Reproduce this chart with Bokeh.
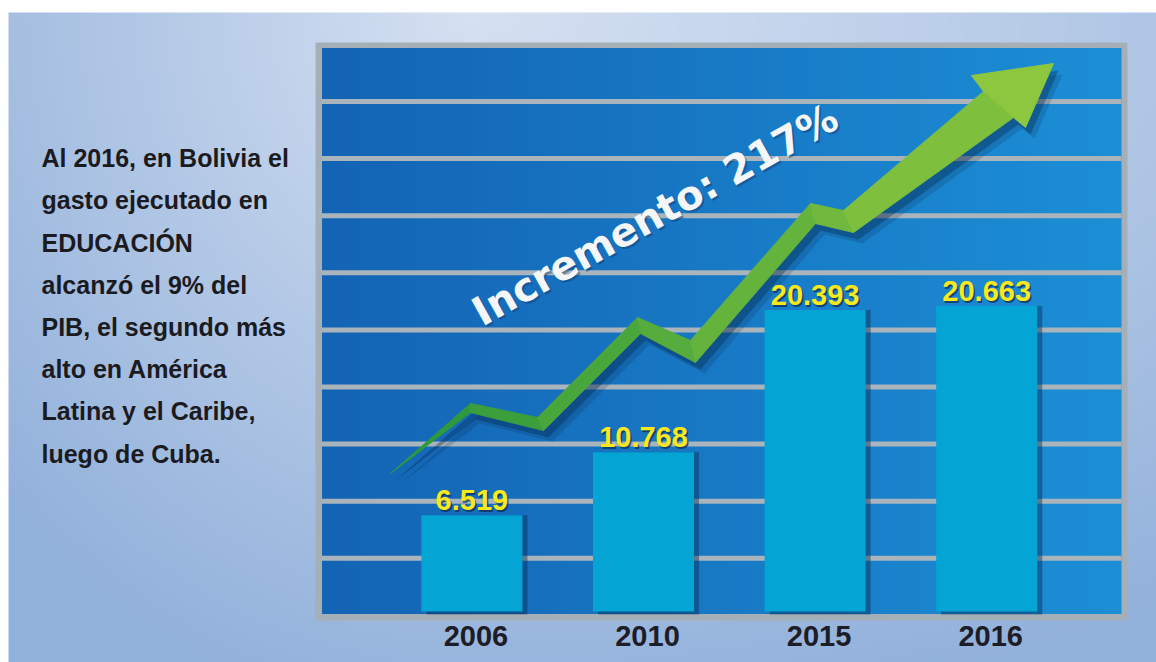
import numpy as np
from bokeh.plotting import figure
from bokeh.models import Range1d, ColumnDataSource
from bokeh.core.properties import value
from bokeh.transform import dodge
from bokeh.embed import file_html
from bokeh.resources import INLINE

# ---------------- data ----------------
years = ["2006", "2010", "2015", "2016"]
gasto = [6.519, 10.768, 20.393, 20.663]
gasto_labels = ["6.519", "10.768", "20.393", "20.663"]
titulo = "Incremento: 217%"
nota = [
    "Al 2016, en Bolivia el",
    "gasto ejecutado en",
    "EDUCACIÓN",
    "alcanzó el 9% del",
    "PIB, el segundo más",
    "alto en América",
    "Latina y el Caribe,",
    "luego de Cuba.",
]

# ---------------- layout ----------------
W, H = 1156, 662
TXT_SHIFT = 10  # baseline correction for rendered text


def PX(x):  # picture x -> figure pixel x
    return x


def PY(y):  # picture y -> figure pixel y (from bottom)
    return H - y


BAR0 = PX(471.4)   # pixel position of first category
STEP = 171.6       # pixels per category
BASE = PY(611)     # pixel position of value 0
PPU = 14.78        # pixels per unit of value
BAR_W = 0.589

p = figure(width=W, height=H, output_backend="svg", toolbar_location=None,
           x_range=Range1d(-BAR0 / STEP, (W - BAR0) / STEP),
           y_range=Range1d(-BASE / PPU, (H - BASE) / PPU),
           x_axis_location=None, y_axis_location=None,
           min_border=0, outline_line_color=None,
           background_fill_color="white", border_fill_color="white")
p.grid.grid_line_color = None
p.extra_x_ranges["px"] = Range1d(0, W)
p.extra_y_ranges["py"] = Range1d(0, H)
PXR = dict(x_range_name="px", y_range_name="py")

# ---- light background gradient ----
h2, w2 = H // 2, W // 2
xp = (np.arange(w2) + 0.5) * 2
yp = H - (np.arange(h2) + 0.5) * 2
XX, YY = np.meshgrid(xp, yp)
sx = np.where(XX < 470, 640.0, 1250.0)
d = np.sqrt(((XX - 470) / sx) ** 2 + ((YY - 10) / 720) ** 2)
t = np.clip(d, 0, 1)[..., None]
light = np.array([214, 225, 242], dtype=float)
dark = np.array([146, 177, 219], dtype=float)
rgb = light + (dark - light) * t
rgb[(YY < 12) | (XX < 9)] = 255
bg = np.empty((h2, w2), dtype=np.uint32)
bv = bg.view(dtype=np.uint8).reshape((h2, w2, 4))
bv[..., :3] = rgb.astype(np.uint8)
bv[..., 3] = 255
p.image_rgba(image=[bg], x=0, y=0, dw=W, dh=H, **PXR)

# ---- chart panel ----
p.quad(left=PX(315), right=PX(1127), top=PY(42), bottom=PY(620),
       fill_color="#a5afb8", line_color=None, **PXR)
nb = 400
u = np.linspace(0, 1, nb)[None, :, None]
c0 = np.array([20, 100, 181], dtype=float)
c1 = np.array([28, 143, 214], dtype=float)
brgb = c0 + (c1 - c0) * u
blue = np.empty((1, nb), dtype=np.uint32)
bl = blue.view(dtype=np.uint8).reshape((1, nb, 4))
bl[..., :3] = brgb.astype(np.uint8)
bl[..., 3] = 255
p.image_rgba(image=[blue], x=PX(321.5), y=PY(613.5), dw=1121 - 321.5,
             dh=613.5 - 47.5, **PXR)

grid_y = [PY(101 + k * 57.1) for k in range(9)]
p.segment(x0=PX(321.5), x1=PX(1121), y0=grid_y, y1=grid_y,
          line_color="#aab4bc", line_width=5, **PXR)

# ---- title text ----
p.text(x=[PX(656.5)], y=[PY(216)], text=[titulo], angle=0.51,
       text_align="center", text_baseline="middle",
       text_font=value("DejaVu Sans"), text_font_style="bold",
       text_font_size="40px", text_color="#0b3a6e", text_alpha=0.45, **PXR)
p.text(x=[PX(654.5)], y=[PY(214)], text=[titulo], angle=0.51,
       text_align="center", text_baseline="middle",
       text_font=value("DejaVu Sans"), text_font_style="bold",
       text_font_size="40px", text_color="#f4f6f8", **PXR)

# ---- arrow ----
upper = [(390, 473), (470, 403), (537, 417), (637, 317), (690, 340),
         (810, 203), (843, 210), (983, 91)]
lower = [(390, 473), (470, 412), (543, 430), (640, 333), (695, 362),
         (815, 223), (853, 232), (1013, 117)]
head = [(983, 91), (971, 75), (1053, 63), (1025, 127), (1013, 117)]
outline = upper + head[1:4] + lower[::-1]
for off, a in [((9, 11), 0.18), ((5, 7), 0.35)]:
    p.patch(x=[PX(x + off[0]) for x, _ in outline],
            y=[PY(y + off[1]) for _, y in outline],
            fill_color="#06264a", fill_alpha=a, line_color=None, **PXR)
g0 = np.array([46, 154, 60], dtype=float)
g1 = np.array([141, 198, 63], dtype=float)
xs, ys, cols = [], [], []
nseg = len(upper) - 1
for k in range(nseg):
    poly = [upper[k], upper[k + 1], lower[k + 1], lower[k]]
    xs.append([PX(x) for x, _ in poly])
    ys.append([PY(y) for _, y in poly])
    c = g0 + (g1 - g0) * (k / nseg)
    cols.append("#%02x%02x%02x" % tuple(int(v) for v in c))
xs.append([PX(x) for x, _ in head])
ys.append([PY(y) for _, y in head])
cols.append("#%02x%02x%02x" % tuple(int(v) for v in g1))
p.patches(xs=xs, ys=ys, fill_color=cols, line_color=cols, line_width=1, **PXR)

# ---- bars ----
src = ColumnDataSource(dict(x=list(range(len(years))), top=gasto,
                            label=gasto_labels, year=years))
p.vbar(x=dodge("x", 5 / STEP), top="top", bottom=-3 / PPU, width=BAR_W,
       fill_color="#062c57", fill_alpha=0.45, line_color=None, source=src)
p.vbar(x="x", top="top", bottom=0, width=BAR_W, fill_color="#04a5d5",
       line_color=None, source=src)

# value labels
p.text(x="x", y="top", text="label", x_offset=1.5, y_offset=-3.5 - TXT_SHIFT,
       text_align="center", text_baseline="alphabetic",
       text_font=value("Liberation Sans"), text_font_style="bold",
       text_font_size="29px", text_color="#0a2a50", text_alpha=0.7, source=src)
p.text(x="x", y="top", text="label", y_offset=-5 - TXT_SHIFT,
       text_align="center", text_baseline="alphabetic",
       text_font=value("Liberation Sans"), text_font_style="bold",
       text_font_size="29px", text_color="#f8e81c", source=src)

# year labels
p.text(x="x", y=PY(645 - TXT_SHIFT), text="year", x_offset=4, y_range_name="py",
       text_align="center", text_baseline="alphabetic",
       text_font=value("Liberation Sans"), text_font_style="bold",
       text_font_size="29px", text_color="#1d1d27", source=src)

# ---- side note ----
p.text(x=[PX(41)] * len(nota),
       y=[PY(167.7 - TXT_SHIFT + 42.2 * i) for i in range(len(nota))],
       text=nota, text_align="left", text_baseline="alphabetic",
       text_font=value("Liberation Sans"), text_font_style="bold",
       text_font_size="25px", text_color="#1b1b1f", **PXR)

open("out.html", "w").write(file_html(p, INLINE))
